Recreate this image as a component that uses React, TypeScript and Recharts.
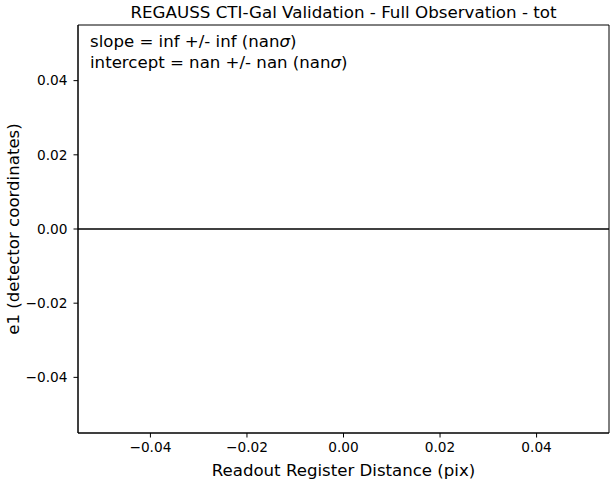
import React from "react";
import {
  ComposedChart,
  XAxis,
  YAxis,
  ReferenceLine,
  ReferenceArea,
  Label,
} from "recharts";

const xDomain: [number, number] = [-0.055, 0.055];
const yDomain: [number, number] = [-0.055, 0.055];
const xTicks = [-0.04, -0.02, 0.0, 0.02, 0.04];
const yTicks = [-0.04, -0.02, 0.0, 0.02, 0.04];
const zeroLevel = [0];
const titleText = "REGAUSS CTI-Gal Validation - Full Observation - tot";
const slopeText = ["slope = inf +/- inf (nan", ")"];
const interceptText = ["intercept = nan +/- nan (nan", ")"];
const xLabel = "Readout Register Distance (pix)";
const yLabel = "e1 (detector coordinates)";

const FONT = "'DejaVu Sans'";
const TITLE = 16.7;
const BIG = 16.6;

const fmt = (v: number) => {
  const s = v.toFixed(2);
  return v < 0 ? "\u2212" + s.slice(1) : s;
};

const FrameContent = (props: any) => {
  const vb = props.viewBox || {};
  const x = vb.x ?? 0;
  const y = vb.y ?? 0;
  const w = vb.width ?? 0;
  return (
    <g>
      <text
        x={x + w / 2}
        y={y - 13}
        textAnchor="middle"
        dominantBaseline="central"
        style={{ fontFamily: FONT, fontSize: TITLE, fill: "#000" }}
      >
        {titleText}
      </text>
      <text x={x + 12} y={y + 22} style={{ fontFamily: FONT, fontSize: BIG, fill: "#000" }}>
        {slopeText[0]}
        <tspan fontStyle="italic">σ</tspan>
        {slopeText[1]}
      </text>
      <text x={x + 12} y={y + 43} style={{ fontFamily: FONT, fontSize: BIG, fill: "#000" }}>
        {interceptText[0]}
        <tspan fontStyle="italic">σ</tspan>
        {interceptText[1]}
      </text>
    </g>
  );
};

const XLabelContent = (props: any) => {
  const vb = props.viewBox || {};
  return (
    <text
      x={(vb.x ?? 0) + (vb.width ?? 0) / 2}
      y={(vb.y ?? 0) + 37}
      textAnchor="middle"
      dominantBaseline="central"
      style={{ fontFamily: FONT, fontSize: BIG, fill: "#000" }}
    >
      {xLabel}
    </text>
  );
};

const YLabelContent = (props: any) => {
  const vb = props.viewBox || {};
  const cx = (vb.x ?? 0) + 13.5;
  const cy = (vb.y ?? 0) + (vb.height ?? 0) / 2;
  return (
    <text
      x={cx}
      y={cy}
      textAnchor="middle"
      dominantBaseline="central"
      transform={`rotate(-90, ${cx}, ${cy})`}
      style={{ fontFamily: FONT, fontSize: BIG, fill: "#000" }}
    >
      {yLabel}
    </text>
  );
};

const tickStyle = { fontFamily: FONT, fontSize: 13.7, fill: "#000" };

export default function App() {
  return (
    <div style={{ position: "absolute", left: 0, top: 0, width: 614, height: 482, background: "#fff" }}>
      <ComposedChart
        width={614}
        height={482}
        data={[]}
        margin={{ top: 25, right: 5, bottom: 0, left: 0 }}
      >
        <XAxis
          xAxisId="bottom"
          type="number"
          dataKey="x"
          domain={xDomain}
          ticks={xTicks}
          tickFormatter={fmt}
          allowDataOverflow
          height={49}
          tickSize={4.5}
          tickMargin={5}
          tick={tickStyle}
          axisLine={{ stroke: "#000", strokeWidth: 1 }}
          tickLine={{ stroke: "#000", strokeWidth: 1 }}
          interval={0}
        >
          <Label content={XLabelContent} />
        </XAxis>
        <YAxis
          yAxisId="left"
          type="number"
          dataKey="y"
          domain={yDomain}
          ticks={yTicks}
          tickFormatter={fmt}
          allowDataOverflow
          width={78}
          tickSize={4.5}
          tickMargin={6}
          tick={tickStyle}
          axisLine={{ stroke: "#000", strokeWidth: 1 }}
          tickLine={{ stroke: "#000", strokeWidth: 1 }}
          interval={0}
        >
          <Label content={YLabelContent} />
        </YAxis>
        <ReferenceArea
          xAxisId="bottom"
          yAxisId="left"
          x1={xDomain[0]}
          x2={xDomain[1]}
          y1={yDomain[0]}
          y2={yDomain[1]}
          fill="none"
          fillOpacity={0}
          stroke="#000"
          strokeWidth={1}
          ifOverflow="visible"
          label={FrameContent}
        />
        {zeroLevel.map((v) => (
          <ReferenceLine
            key={v}
            y={v}
            xAxisId="bottom"
            yAxisId="left"
            stroke="#000"
            strokeWidth={1.6}
            ifOverflow="extendDomain"
          />
        ))}
      </ComposedChart>
    </div>
  );
}
